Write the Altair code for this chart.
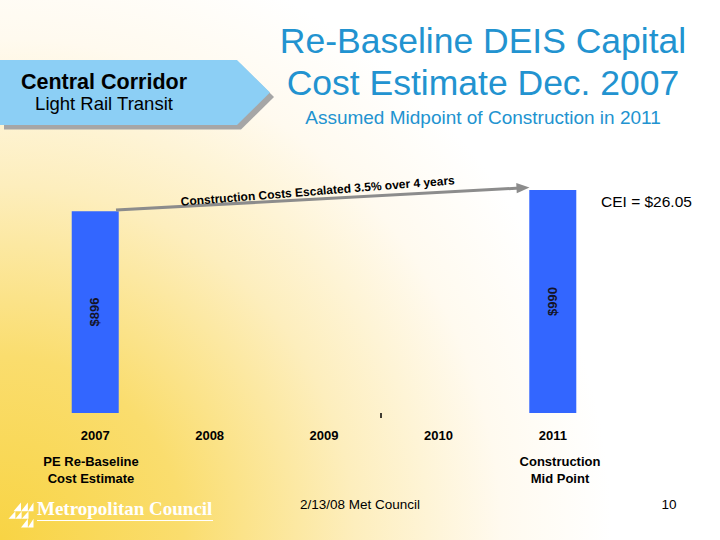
import altair as alt
import pandas as pd

# Chart values
years = [2007, 2008, 2009, 2010, 2011]
bar_years = [2007, 2011]
bar_values = [896, 990]
bar_labels = ["$896", "$990"]
bottom_notes_left = ["PE Re-Baseline", "Cost Estimate"]
bottom_notes_right = ["Construction", "Mid Point"]

W, H = 720, 540
FONT = "Liberation Sans"

bars_df = pd.DataFrame({"year": bar_years, "value": bar_values, "label": bar_labels})
years_df = pd.DataFrame({"year": years, "label": [str(y) for y in years]})
one = pd.DataFrame({"k": [0]})

# scales chosen so the years fall under their column labels
x_scale = alt.Scale(domain=[2006.2112, 2012.4181], nice=False, zero=False)
y_scale = alt.Scale(domain=[-563.8, 1833.5], nice=False, zero=False)


def note(text, x, y, size, color="#000000", weight="normal", align="center",
         font=FONT, angle=0, baseline="alphabetic"):
    return alt.Chart(one).mark_text(
        text=text, font=font, fontSize=size, fontWeight=weight, color=color,
        align=align, baseline=baseline, angle=angle,
    ).encode(x=alt.value(x), y=alt.value(y))


def shape(path, x, y, span, color, angle=0):
    return alt.Chart(one).mark_point(
        shape=path, size=span * span, filled=True, opacity=1, color=color,
        strokeWidth=0, angle=angle,
    ).encode(x=alt.value(x), y=alt.value(y))


# slide background: warm yellow glow from the lower-left corner
background = alt.Chart(one).mark_rect(
    fill=alt.Gradient(
        gradient="radial",
        stops=[
            alt.GradientStop(color="#f8d444", offset=0),
            alt.GradientStop(color="#fadd6e", offset=0.3),
            alt.GradientStop(color="#fdeebd", offset=0.58),
            alt.GradientStop(color="#fffaef", offset=0.82),
            alt.GradientStop(color="#ffffff", offset=1),
        ],
        x1=0, y1=0.875, r1=0, x2=0, y2=0.875, r2=0.85,
    ),
).encode(x=alt.value(0), x2=alt.value(W), y=alt.value(0), y2=alt.value(H))

# banner (pentagon arrow) with drop shadow
banner_path = "M-1,-0.2407L0.7556,-0.2407L1,0L0.7556,0.2407L-1,0.2407Z"
banner_shadow = shape(banner_path, 139, 97, 270, "#a6a6a6")
banner = shape(banner_path, 135, 92.5, 270, "#8ccff5")

# bars and their value labels
bars = alt.Chart(bars_df).mark_bar(size=47, color="#3366ff", orient="vertical").encode(
    x=alt.X("year:Q", scale=x_scale, axis=None),
    y=alt.Y("value:Q", scale=y_scale, axis=None),
)
bar_text = alt.Chart(bars_df).transform_calculate(mid="datum.value / 2").mark_text(
    font=FONT, fontSize=13, fontWeight="bold", color="#141428", angle=270,
    align="center", baseline="middle",
).encode(
    x=alt.X("year:Q", scale=x_scale, axis=None),
    y=alt.Y("mid:Q", scale=y_scale, axis=None),
    text="label:N",
)

# year labels along the bottom
year_text = alt.Chart(years_df).mark_text(
    font=FONT, fontSize=13, fontWeight="bold", color="#000000", baseline="alphabetic",
).encode(
    x=alt.X("year:Q", scale=x_scale, axis=None),
    y=alt.value(440),
    text="label:N",
)

# escalation arrow between the two estimates
arrow_line = alt.Chart(one).mark_rule(color="#8c8c8c", strokeWidth=3).encode(
    x=alt.value(116), y=alt.value(210), x2=alt.value(520), y2=alt.value(188)
)
arrow_head = shape("M-1,-0.8L1,0L-1,0.8Z", 523, 187.8, 13, "#8c8c8c", angle=357)
arrow_text = note("Construction Costs Escalated 3.5% over 4 years", 318, 195, 12,
                  weight="bold", angle=355.5)

tick = alt.Chart(one).mark_rule(color="#000000", strokeWidth=1.5).encode(
    x=alt.value(381), y=alt.value(413), y2=alt.value(418)
)

# Metropolitan Council logo mark
logo_path = (
    "M-0.6,-0.3L0,-0.3L0,-1Z M0,-0.3L0.55,-0.3L0.55,-1Z M0.55,-0.3L1,-0.3L1,-1Z "
    "M-1,0.3L-0.45,0.3L-0.45,-0.3Z M-0.45,0.3L0.05,0.3L0.05,-0.3Z "
    "M0.05,0.3L0.6,0.3L0.6,-0.3Z "
    "M0,1L0.55,1L0.55,0.3Z M0.55,1L1,1L1,0.3Z"
)
logo = shape(logo_path, 21, 515, 25, "#ffffff")
logo_text = note("Metropolitan Council", 37, 515, 19, color="#ffffff", weight="bold",
                 align="left", font="Liberation Serif")
logo_line = alt.Chart(one).mark_rule(color="#ffffff", strokeWidth=1).encode(
    x=alt.value(37), x2=alt.value(213), y=alt.value(520.5)
)

layers = [
    background, banner_shadow, banner,
    note("Central Corridor", 104, 89, 21.5, weight="bold"),
    note("Light Rail Transit", 104, 110, 18.5),
    note("Re-Baseline DEIS Capital", 483, 53, 35.5, color="#2293d0"),
    note("Cost Estimate Dec. 2007", 483, 95, 35.5, color="#2293d0"),
    note("Assumed Midpoint of Construction in 2011", 483, 124, 19, color="#2293d0"),
    bars, bar_text, year_text,
    arrow_line, arrow_head, arrow_text, tick,
    note("CEI = $26.05", 601, 207, 15.5, align="left"),
    note(bottom_notes_left[0], 91, 466, 13, weight="bold"),
    note(bottom_notes_left[1], 91, 483, 13, weight="bold"),
    note(bottom_notes_right[0], 560, 466, 13, weight="bold"),
    note(bottom_notes_right[1], 560, 483, 13, weight="bold"),
    note("2/13/08 Met Council", 360, 509, 13.5),
    note("10", 669, 509, 13.5),
    logo, logo_text, logo_line,
]

chart = alt.layer(*layers).properties(
    width=W, height=H, padding=0, autosize="none", background="#ffffff"
).configure_view(stroke=None)

chart.save("out.html", embed_options={"renderer": "svg", "actions": False})
